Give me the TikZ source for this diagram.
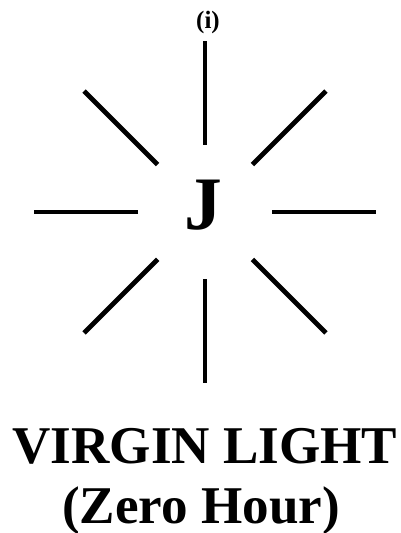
\documentclass[tikz,border=0pt]{standalone}
\usepackage{fontspec}
\setmainfont{Liberation Serif}
\usetikzlibrary{calc}
\begin{document}
\begin{tikzpicture}[x=0.02cm, y=-0.02cm,
  ray/.style={line width=0.095cm, black},
  caption/.style={font=\bfseries\fontsize{30.2}{32}\selectfont, anchor=base, inner sep=0pt}
]
  \useasboundingbox (0,0) rectangle (401,533);
  % centre of the burst
  \coordinate (c) at (205,212);
  \node[font=\bfseries\fontsize{14.2}{16}\selectfont, anchor=base, inner sep=0pt]
    (num) at (208,29) {(i)};
  \node[font=\bfseries\fontsize{43}{45}\selectfont, anchor=base, inner sep=0pt]
    (letter) at (203,230) {J};

  % Eight rays
  \foreach \a in {0,45,...,315}{
    \draw[ray] ($(c)+(\a:67)$) -- ($(c)+(\a:171)$);
  }

  % Caption
  \node[caption] (name) at (205,463) {VIRGIN LIGHT};
  \node[caption] (hour) at (201,523) {(Zero Hour)};
\end{tikzpicture}
\end{document}
